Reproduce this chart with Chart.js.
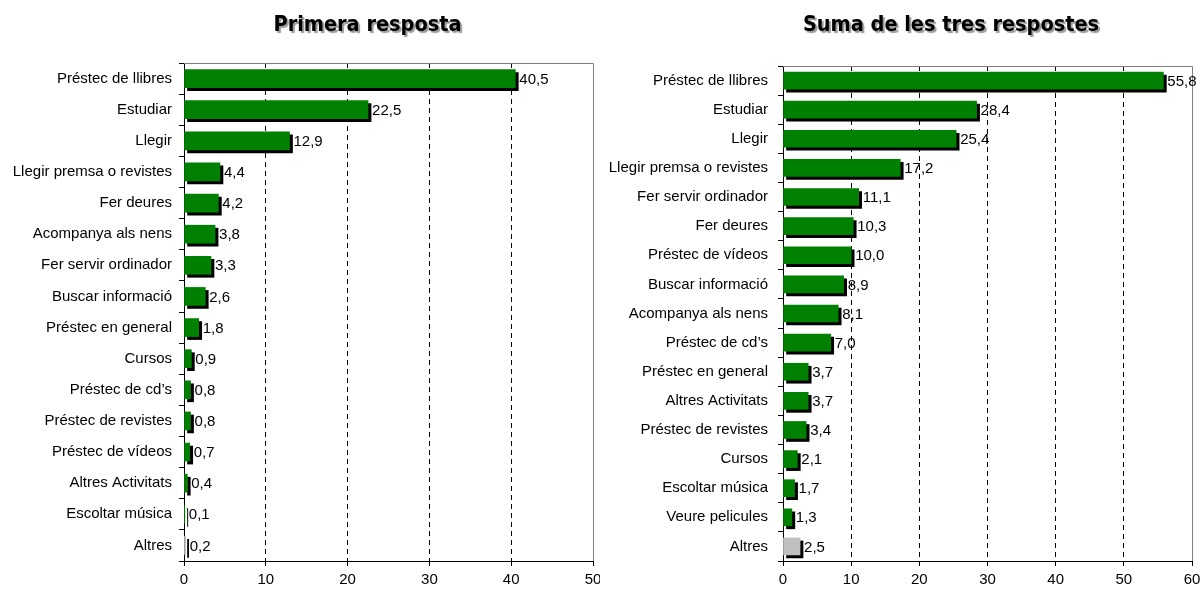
<!DOCTYPE html>
<html>
<head>
<meta charset="utf-8">
<script src="https://cdn.jsdelivr.net/npm/chart.js@4/dist/chart.umd.min.js"></script>
<style>
  html, body { margin: 0; padding: 0; background: #fff; }
  #firstChart { position: absolute; left: 0; top: 0; }
  #sumChart { position: absolute; left: 600px; top: 0; }
</style>
</head>
<body>
<canvas id="firstChart" width="600" height="592"></canvas>
<canvas id="sumChart" width="602" height="592"></canvas>
<script>
// Primera resposta
var firstLabels = ["Préstec de llibres", "Estudiar", "Llegir", "Llegir premsa o revistes",
    "Fer deures", "Acompanya als nens", "Fer servir ordinador", "Buscar informació",
    "Préstec en general", "Cursos", "Préstec de cd’s", "Préstec de revistes",
    "Préstec de vídeos", "Altres Activitats", "Escoltar música", "Altres"];
var firstValues = [40.5, 22.5, 12.9, 4.4, 4.2, 3.8, 3.3, 2.6, 1.8, 0.9, 0.8, 0.8, 0.7, 0.4, 0.1, 0.2];
var firstTicks = [0, 10, 20, 30, 40, 50];

// Suma de les tres respostes
var sumLabels = ["Préstec de llibres", "Estudiar", "Llegir", "Llegir premsa o revistes",
    "Fer servir ordinador", "Fer deures", "Préstec de vídeos", "Buscar informació",
    "Acompanya als nens", "Préstec de cd’s", "Préstec en general", "Altres Activitats",
    "Préstec de revistes", "Cursos", "Escoltar música", "Veure pelicules", "Altres"];
var sumValues = [55.8, 28.4, 25.4, 17.2, 11.1, 10.3, 10.0, 8.9, 8.1, 7.0, 3.7, 3.7, 3.4, 2.1, 1.7, 1.3, 2.5];
var sumTicks = [0, 10, 20, 30, 40, 50, 60];

var green = '#008000';
var grey = '#c0c0c0';
var labelFont = { family: '"Liberation Sans", Arial, sans-serif', size: 15 };

// bar shadow, value labels and the grey frame on top/right
var barExtras = {
    id: 'barExtras',
    beforeDatasetsDraw: function(chart) {
        var ctx = chart.ctx;
        ctx.save();
        ctx.shadowColor = '#000';
        ctx.shadowOffsetX = 3;
        ctx.shadowOffsetY = 3;
        ctx.shadowBlur = 0;
    },
    afterDatasetsDraw: function(chart) {
        var ctx = chart.ctx;
        ctx.restore();
        var a = chart.chartArea;
        ctx.save();
        ctx.strokeStyle = '#808080';
        ctx.lineWidth = 1;
        ctx.beginPath();
        ctx.moveTo(a.left, a.top + 0.5);
        ctx.lineTo(a.right + 0.5, a.top + 0.5);
        ctx.lineTo(a.right + 0.5, a.bottom);
        ctx.stroke();

        ctx.fillStyle = '#000';
        ctx.font = labelFont.size + 'px ' + labelFont.family;
        ctx.textAlign = 'left';
        ctx.textBaseline = 'middle';
        var values = chart.data.datasets[0].data;
        chart.getDatasetMeta(0).data.forEach(function(bar, i) {
            ctx.fillText(values[i].toFixed(1).replace('.', ','), bar.x + 4, bar.y + 1);
        });
        ctx.restore();
    }
};

function makeChart(id, title, labels, values, ticks, cfg) {
    var tickMax = ticks[ticks.length - 1];
    var chart = new Chart(document.getElementById(id), {
        type: 'bar',
        data: {
            labels: labels,
            datasets: [{
                data: values,
                backgroundColor: function(c) {
                    return labels[c.dataIndex] === 'Altres' ? grey : green;
                },
                borderWidth: 0,
                barThickness: cfg.barThickness
            }]
        },
        options: {
            indexAxis: 'y',
            responsive: false,
            animation: false,
            devicePixelRatio: 1,
            layout: { padding: { left: 0, right: cfg.padRight, top: 0, bottom: 0 } },
            plugins: {
                legend: { display: false },
                tooltip: { enabled: false },
                title: {
                    display: true,
                    text: title,
                    color: '#000',
                    font: { family: '"DejaVu Sans Condensed", "DejaVu Sans", sans-serif', size: 21.5, weight: 'bold', lineHeight: 1.2 },
                    padding: { top: 13, bottom: cfg.titleBottom }
                }
            },
            scales: {
                x: {
                    min: ticks[0],
                    max: tickMax,
                    ticks: { stepSize: ticks[1] - ticks[0], color: '#000', font: labelFont, padding: 5 },
                    grid: {
                        color: function(c) {
                            return (c.tick && (c.tick.value === ticks[0] || c.tick.value === tickMax)) ? 'rgba(0,0,0,0)' : '#000';
                        },
                        tickColor: '#000',
                        tickLength: 5
                    },
                    border: { color: '#000', width: 1, dash: [5, 4] },
                    afterFit: function(s) { s.height = 31; s.paddingLeft = 0; s.paddingRight = 0; }
                },
                y: {
                    ticks: { color: '#000', font: labelFont, padding: cfg.labelGap },
                    grid: { drawOnChartArea: false, tickColor: '#000', tickLength: 5 },
                    border: { color: '#000', width: 1 },
                    afterFit: function(s) { s.width = cfg.axisWidth; s.paddingTop = 0; s.paddingBottom = 0; }
                }
            }
        },
        plugins: [barExtras]
    });
    // title sits off-centre over the plot, with a soft shadow
    var tb = chart.titleBlock;
    var origDraw = tb.draw.bind(tb);
    tb.draw = function() {
        var ctx = chart.ctx;
        ctx.save();
        ctx.translate(cfg.titleShift, 0);
        ctx.shadowColor = 'rgba(0,0,0,0.4)';
        ctx.shadowOffsetX = 2;
        ctx.shadowOffsetY = 2;
        ctx.shadowBlur = 1;
        origDraw();
        ctx.restore();
    };
    chart.draw();
    return chart;
}

makeChart('firstChart', 'Primera resposta', firstLabels, firstValues, firstTicks,
    { padRight: 7, axisWidth: 184, titleBottom: 24.2, barThickness: 18, labelGap: 7, titleShift: 71 });
makeChart('sumChart', 'Suma de les tres respostes', sumLabels, sumValues, sumTicks,
    { padRight: 10, axisWidth: 183, titleBottom: 27.2, barThickness: 17, labelGap: 10, titleShift: 55 });
</script>
</body>
</html>
